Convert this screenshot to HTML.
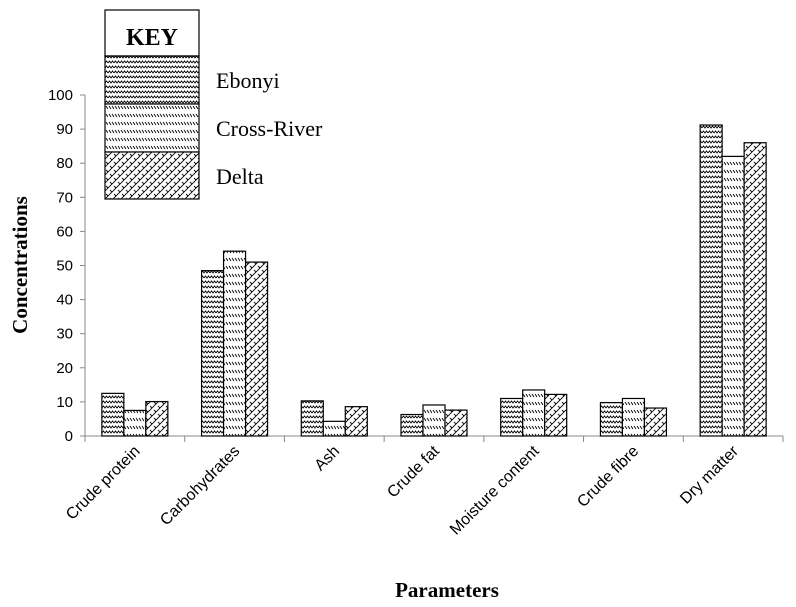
<!DOCTYPE html>
<html><head><meta charset="utf-8"><style>
body{margin:0;background:#fff;}
svg{display:block;}
text{font-family:"Liberation Sans",sans-serif;}
</style></head><body>
<svg id="chart" width="796" height="607" xmlns="http://www.w3.org/2000/svg">
<defs>
<pattern id="pWave" width="6" height="5" patternUnits="userSpaceOnUse">
<rect width="6" height="5" fill="#fff"/>
<path d="M0,3 L1.5,1 L3,3 L4.5,1 L6,3" stroke="#000" stroke-width="0.9" fill="none"/>
</pattern>
<pattern id="pDash" width="12" height="8" patternUnits="userSpaceOnUse">
<rect width="12" height="8" fill="#fff"/>
<path d="M1,2 L3,5 M4,2 L6,5 M7,2 L9,5 M10,2 L12,5" stroke="#000" stroke-width="0.9" fill="none"/>
</pattern>
<pattern id="pCross" width="8" height="8" patternUnits="userSpaceOnUse">
<rect width="8" height="8" fill="#fff"/>
<path d="M0,8 L8,0 M-2,2 L2,-2 M6,10 L10,6" stroke="#000" stroke-width="0.9" fill="none"/>
<path d="M2,2 L4,4 M6,6 L8,8" stroke="#000" stroke-width="0.9" fill="none"/>
</pattern>
</defs>
<g id="axes"></g>
<g id="bars"></g>
<g id="legend">
<rect x="105" y="10" width="94" height="46" fill="#fff" stroke="#000" stroke-width="1.2"/>
<text x="152" y="45" text-anchor="middle" font-weight="bold" font-size="24" style="font-family:'Liberation Serif',serif">KEY</text>
<rect x="105" y="56" width="94" height="48" fill="url(#pWave)" stroke="#000" stroke-width="1.2"/>
<rect x="105" y="104" width="94" height="48" fill="url(#pDash)" stroke="#000" stroke-width="1.2"/>
<rect x="105" y="152" width="94" height="47" fill="url(#pCross)" stroke="#000" stroke-width="1.2"/>
<text x="216" y="88" font-size="22" style="font-family:'Liberation Serif',serif">Ebonyi</text>
<text x="216" y="136" font-size="22" style="font-family:'Liberation Serif',serif">Cross-River</text>
<text x="216" y="184" font-size="22" style="font-family:'Liberation Serif',serif">Delta</text>
</g>
<text x="447" y="597" text-anchor="middle" font-weight="bold" font-size="21" style="font-family:'Liberation Serif',serif">Parameters</text>
<text transform="translate(27,265) rotate(-90)" text-anchor="middle" font-weight="bold" font-size="21" style="font-family:'Liberation Serif',serif">Concentrations</text>
</svg>
<script>
const categories = ["Crude protein","Carbohydrates","Ash","Crude fat","Moisture content","Crude fibre","Dry matter"];
const ebonyi = [12.5, 48.5, 10.3, 6.3, 11, 9.8, 91.2];
const crossRiver = [7.5, 54.2, 4.3, 9.1, 13.5, 11, 82];
const delta = [10.1, 51, 8.6, 7.6, 12.2, 8.2, 86];
const yTicks = [0,10,20,30,40,50,60,70,80,90,100];

const NS="http://www.w3.org/2000/svg";
const x0=85, x1=783, y0=436, y1=95, yMax=100;
const band=(x1-x0)/categories.length, barW=22;
function yScale(v){return y0-(v/yMax)*(y0-y1);}
function xBand(i){return x0+i*band;}
function mk(tag,attrs,parent){const e=document.createElementNS(NS,tag);for(const k in attrs)e.setAttribute(k,attrs[k]);parent.appendChild(e);return e;}
const axes=document.getElementById('axes'), bars=document.getElementById('bars');
const yl=mk('line',{x1:x0,y1:y1,x2:x0,y2:y0,stroke:'#888','stroke-width':1},axes);


const xl=mk('line',{x1:x0,y1:y0,x2:x1,y2:y0,stroke:'#888','stroke-width':1},axes);


yTicks.forEach(t=>{
  const y=yScale(t);
  mk('line',{x1:x0-5,y1:y,x2:x0,y2:y,stroke:'#888'},axes);
  const tx=mk('text',{x:x0-12,y:y+5,'text-anchor':'end','font-size':15},axes);
  tx.textContent=t;
  
  
});
for(let i=0;i<=categories.length;i++){
  const x=xBand(i);
  mk('line',{x1:x,y1:y0,x2:x,y2:y0+6,stroke:'#888'},axes);
}
const series=[[ebonyi,'url(#pWave)','ebonyi'],[crossRiver,'url(#pDash)','cross-river'],[delta,'url(#pCross)','delta']];
categories.forEach((c,i)=>{
  const start=xBand(i)+band/2-1.5*barW;
  series.forEach((s,j)=>{
    const v=s[0][i];const y=yScale(v);
    const r=mk('rect',{x:start+j*barW,y:y,width:barW,height:y0-y,fill:s[1],stroke:'#000','stroke-width':1.2},bars);
    
    
  });
  const cx=xBand(i)+band/2+6;
  const t=mk('text',{x:cx,y:y0+16,'text-anchor':'end','font-size':16,transform:'rotate(-45 '+cx+' '+(y0+16)+')'},axes);
  t.textContent=c;
  
  
});
</script>
</body></html>
